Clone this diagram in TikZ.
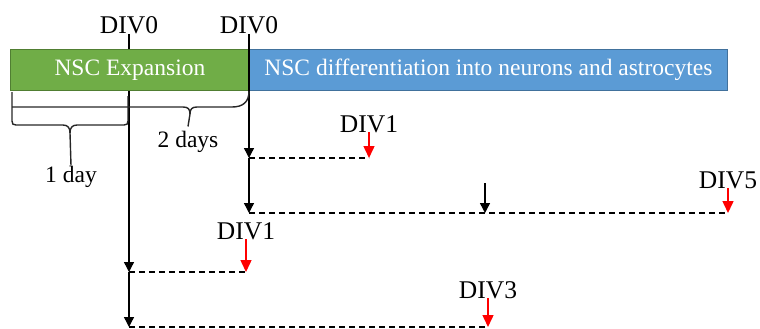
\documentclass[tikz,border=0pt]{standalone}
\usepackage{fontspec}
\setmainfont{Liberation Serif}
\usetikzlibrary{arrows.meta}
\definecolor{grn}{HTML}{70AD47}
\definecolor{grnb}{HTML}{507E32}
\definecolor{blu}{HTML}{5B9BD5}
\definecolor{blub}{HTML}{41719C}
\begin{document}
\begin{tikzpicture}[x=1pt,y=-1pt,
  divlab/.style={font=\fontsize{25.5}{28}\selectfont, inner sep=0pt, anchor=base},
  boxtxt/.style={font=\fontsize{23.5}{26}\selectfont, text=white, inner sep=0pt, line width=0.8pt},
  daylab/.style={font=\fontsize{23.5}{26}\selectfont, inner sep=0pt, anchor=base},
  tl/.style={line width=1.4pt, -{Triangle[length=10pt,width=10pt]}},
  redarr/.style={red, line width=1.5pt, -{Triangle[length=12pt,width=11pt]}},
  dashline/.style={line width=1.2pt, dash pattern=on 6pt off 4pt},
  bracestyle/.style={line width=1.4pt, draw=black!85}]
\useasboundingbox (0,0) rectangle (760,329);
% labels
\node[divlab] (d0a) at (129,34) {DIV0};
\node[divlab] (d0b) at (249,34) {DIV0};
\node[divlab] (d1a) at (369,132) {DIV1};
\node[divlab] (d5) at (728,188) {DIV5};
\node[divlab] (d1b) at (246,239) {DIV1};
\node[divlab] (d3) at (488,298) {DIV3};
\node[daylab] (oneday) at (71,182) {1 day};
\node[daylab] (twodays) at (188,147) {2 days};
% key coordinates
\coordinate (a1) at (129,272);
\coordinate (a2) at (129,327);
\coordinate (b1) at (249,158);
\coordinate (b2) at (249,213);
\coordinate (r1) at (369,158);
\coordinate (r2) at (728,213);
\coordinate (r3) at (246,272);
\coordinate (r4) at (488,327);
\coordinate (mtop) at (485,183);
\coordinate (mbot) at (485,213);
% left timeline (behind the boxes)
\draw[tl] (d0a.base) -- (a1);
\draw[tl] (a1) -- (a2);
% boxes
\node[boxtxt, draw=grnb, fill=grn, minimum width=239, minimum height=41, anchor=north west] (exp) at (10,49) {NSC Expansion};
\node[boxtxt, draw=blub, fill=blu, minimum width=478, minimum height=41, anchor=north west] (diff) at (249,49) {NSC differentiation into neurons and astrocytes};
% right timeline
\draw[tl] (d0b.base) -- (b1);
\draw[tl] (b1) -- (b2);
% dashed lines
\draw[dashline] (b1) -- (r1);
\draw[dashline] (b2) -- (r2);
\draw[dashline] (a1) -- (r3);
\draw[dashline] (a2) -- (r4);
\draw[tl] (mtop) -- (mbot);
% red arrows
\draw[redarr] (d1a.base) -- (r1);
\draw[redarr] (d5.base) -- (r2);
\draw[redarr] (d1b.base) -- (r3);
\draw[redarr] (d3.base) -- (r4);
% 1 day brace
\draw[bracestyle] (12,92) -- (12,121) .. controls (12,124) and (13,125) .. (16,125) -- (63,125)
  .. controls (68,125) and (70,128) .. (70,133) -- (oneday.north);
\draw[bracestyle] (128,96) -- (128,121) .. controls (128,124) and (127,125) .. (124,125) -- (77,125)
  .. controls (72,125) and (70,128) .. (70,133);
% 2 days brace
\draw[bracestyle] (12,107) -- (183,107) .. controls (188,107) and (190,109) .. (190,114) -- ([yshift=4pt]twodays.north);
\draw[bracestyle] (249,91) .. controls (249,102) and (243,107) .. (232,107) -- (197,107)
  .. controls (192,107) and (190,109) .. (190,114);
\end{tikzpicture}
\end{document}
